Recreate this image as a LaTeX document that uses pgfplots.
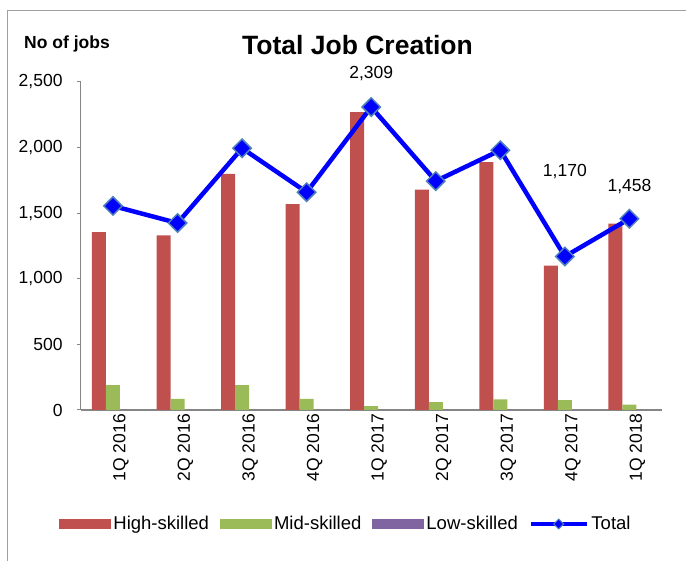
\documentclass[border=0pt]{standalone}
\usepackage{pgfplots}
\pgfplotsset{compat=1.18}
\usepackage{fontspec}
\setmainfont{Liberation Sans}
\definecolor{hred}{HTML}{C0504D}
\definecolor{mgreen}{HTML}{9BBB59}
\definecolor{lpurple}{HTML}{8064A2}
\definecolor{tblue}{HTML}{0000FF}
\definecolor{medge}{HTML}{4F81BD}
\definecolor{axgray}{HTML}{868686}
\definecolor{frgray}{HTML}{A0A0A0}
\newcommand\tk{\fontsize{17.5bp}{21bp}\selectfont}
\newcommand\lgfont{\fontsize{18.5bp}{22bp}\selectfont}
\begin{document}
\begin{tikzpicture}[x=1bp,y=1bp]
\useasboundingbox (0,0) rectangle (686,561);
\draw[frgray, line width=1.5bp] (7.5,0) -- (7.5,550.5) -- (686,550.5);
\node[font=\fontsize{17.5bp}{21bp}\selectfont\bfseries] at (67,517) {No of jobs};
\node[font=\fontsize{26.5bp}{31bp}\selectfont\bfseries] at (357.5,516) {Total Job Creation};
\begin{axis}[
  at={(80.7bp,151bp)}, anchor=south west,
  scale only axis, width=581bp, height=328bp,
  xmin=-0.5, xmax=8.5, ymin=0, ymax=2500,
  axis lines=left, axis line style={-, axgray, line width=1.3bp},
  clip=false,
  xtick={0,1,2,3,4,5,6,7,8},
  xticklabels={1Q 2016,2Q 2016,3Q 2016,4Q 2016,1Q 2017,2Q 2017,3Q 2017,4Q 2017,1Q 2018},
  xticklabel style={rotate=90, anchor=east, font=\tk, inner sep=0pt, yshift=-8bp},
  x tick style={draw=none},
  ytick={0,500,1000,1500,2000,2500},
  y tick style={axgray, line width=1bp},
  major tick length=4bp, tick align=outside,
  yticklabel style={font=\tk, inner sep=0pt, xshift=-14bp},
  /pgf/number format/assume math mode=true,
  /pgf/number format/.cd, 1000 sep={,},
  /pgfplots/.cd,
  legend columns=4,
  legend style={at={(0.4566,-0.3476)}, anchor=center, draw=none, fill=none,
    font=\lgfont, nodes={inner sep=2.5bp}, /tikz/every even column/.append style={column sep=8bp}},
  legend cell align=left,
]
\addplot[ybar, bar width=14bp, bar shift=-14bp, fill=hred, draw=none,
  legend image code/.code={\fill[hred] (0,-5bp) rectangle (52bp,5bp);}]
  coordinates {(0,1355) (1,1330) (2,1800) (3,1570) (4,2270) (5,1680) (6,1890) (7,1100) (8,1420)};
\addlegendentry{High-skilled}
\addplot[ybar, bar width=14bp, bar shift=0bp, fill=mgreen, draw=none,
  legend image code/.code={\fill[mgreen] (0,-5bp) rectangle (52bp,5bp);}]
  coordinates {(0,190) (1,85) (2,190) (3,85) (4,30) (5,60) (6,80) (7,75) (8,40)};
\addlegendentry{Mid-skilled}
\addplot[ybar, bar width=14bp, bar shift=14bp, fill=lpurple, draw=none,
  legend image code/.code={\fill[lpurple] (0,-5bp) rectangle (52bp,5bp);}]
  coordinates {(0,0) (1,0) (2,0) (3,0) (4,0) (5,0) (6,0) (7,0) (8,0)};
\addlegendentry{Low-skilled}
\addplot[tblue, line width=4.5bp, sharp plot, mark=square*, mark size=6.5bp,
  mark options={rotate=45, fill=tblue, draw=medge, line width=1.5bp},
  legend image code/.code={\draw[tblue, line width=4.5bp] (0,0) -- (56bp,0);
     \draw[fill=tblue, draw=medge, line width=1bp, rotate around={45:(28bp,0)}] (24.5bp,-3.5bp) rectangle (31.5bp,3.5bp);}]
  coordinates {(0,1555) (1,1425) (2,1995) (3,1660) (4,2309) (5,1745) (6,1980) (7,1170) (8,1458)};
\addlegendentry{Total}
\node[font=\tk, yshift=34bp] at (axis cs:4,2309) {2,309};
\node[font=\tk, yshift=84.5bp] at (axis cs:7,1170) {1,170};
\node[font=\tk, yshift=31.7bp] at (axis cs:8,1458) {1,458};
\end{axis}
\end{tikzpicture}
\end{document}
